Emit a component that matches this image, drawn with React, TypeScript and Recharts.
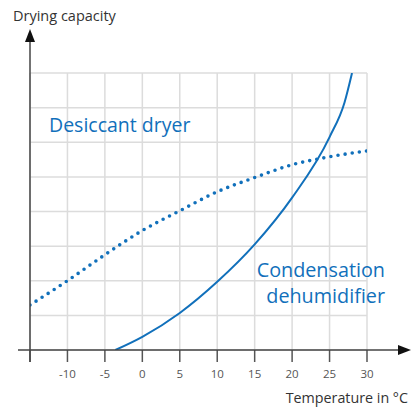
import { LineChart, Line, XAxis, YAxis, CartesianGrid } from "recharts";

const BLUE = "#1170bb";

// temperatures in °C and relative drying capacity (grid units 0..8)
const desiccantTemps = [-15, -10, -5, 0, 5, 10, 15, 20, 25, 30];
const desiccantValues = [1.3, 2.0, 2.75, 3.45, 4.02, 4.57, 4.98, 5.35, 5.58, 5.75];

const condensationTemps = [-3.6, 0, 5, 10, 15, 20, 25, 27, 28];
const condensationValues = [0, 0.38, 1.07, 1.97, 3.05, 4.4, 6.15, 7.15, 8.0];

const xTicks = [-15, -10, -5, 0, 5, 10, 15, 20, 25, 30];
const yTicks = [0, 1, 2, 3, 4, 5, 6, 7, 8];

const desiccantData = desiccantTemps.map((t, i) => ({ t, v: desiccantValues[i] }));
const condensationData = condensationTemps.map((t, i) => ({ t, v: condensationValues[i] }));

const font = "'Open Sans', 'Noto Sans', sans-serif";

const App = () => {
  return (
    <div style={{ position: "absolute", left: 0, top: 0, width: 411, height: 408, fontFamily: font }}>
      <LineChart width={411} height={408} margin={{ top: 73, right: 44, bottom: 0, left: 30 }}>
        <CartesianGrid stroke="#dcdcdc" strokeWidth={1.5} />
        <XAxis
          type="number"
          dataKey="t"
          domain={[-15, 30]}
          ticks={xTicks}
          height={58}
          axisLine={false}
          tickSize={12}
          tickMargin={8}
          tickLine={{ stroke: "#555", strokeWidth: 1.5 }}
          tick={{ fill: "#555", fontSize: 11.5, fontFamily: font }}
          tickFormatter={(v) => (v === -15 ? "" : String(v))}
          allowDataOverflow
        />
        <YAxis type="number" domain={[0, 8]} ticks={yTicks} hide allowDataOverflow />
        <Line
          data={desiccantData}
          dataKey="v"
          type="monotone"
          stroke={BLUE}
          strokeWidth={3.6}
          strokeDasharray="0 7.2"
          strokeLinecap="round"
          dot={false}
          isAnimationActive={false}
        />
        <Line
          data={condensationData}
          dataKey="v"
          type="monotone"
          stroke={BLUE}
          strokeWidth={2}
          dot={false}
          isAnimationActive={false}
        />
      </LineChart>
      <svg width={411} height={408} style={{ position: "absolute", left: 0, top: 0, pointerEvents: "none" }}>
        <line x1={18} y1={350} x2={402} y2={350} stroke="#444" strokeWidth={1.5} />
        <polygon points="411,350 398,345 398,355" fill="#111" />
        <line x1={30} y1={362} x2={30} y2={38} stroke="#444" strokeWidth={1.5} />
        <polygon points="30,29 25,42 35,42" fill="#111" />
      </svg>
      <div style={{ position: "absolute", left: 13, top: 6, fontSize: 14.5, color: "#333" }}>Drying capacity</div>
      <div style={{ position: "absolute", left: 49, top: 111, fontSize: 19.5, color: BLUE }}>Desiccant dryer</div>
      <div
        style={{
          position: "absolute",
          right: 26,
          top: 257,
          fontSize: 19.8,
          lineHeight: "26px",
          color: BLUE,
          textAlign: "right",
        }}
      >
        Condensation
        <br />
        dehumidifier
      </div>
      <div style={{ position: "absolute", right: 3, top: 388, fontSize: 14.3, color: "#333" }}>Temperature in °C</div>
    </div>
  );
};

export default App;
